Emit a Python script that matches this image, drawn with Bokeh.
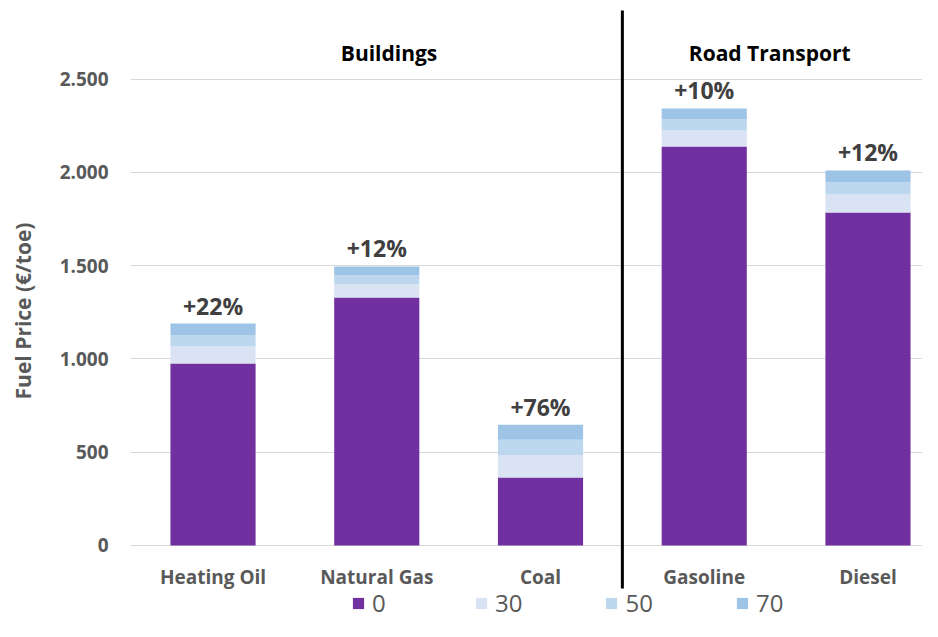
from bokeh.plotting import figure
from bokeh.models import (ColumnDataSource, Range1d, FixedTicker, Legend, LegendItem)
from bokeh.core.properties import value
from bokeh.embed import file_html
from bokeh.resources import INLINE

# ---- data ----
categories = ["Heating Oil", "Natural Gas", "Coal", "Gasoline", "Diesel"]
price_0 = [976, 1330, 365, 2139, 1786]
add_30 = [92, 71, 120, 87, 96]
add_50 = [61, 47, 82, 58, 64]
add_70 = [61, 48, 80, 59, 65]
pct_labels = ["+22%", "+12%", "+76%", "+10%", "+12%"]
series_names = ["0", "30", "50", "70"]
series_colors = ["#7030A0", "#DAE3F3", "#BDD7EE", "#9DC3E6"]
y_ticks = [0, 500, 1000, 1500, 2000, 2500]
y_tick_labels = ["0", "500", "1.000", "1.500", "2.000", "2.500"]
sections = ["Buildings", "Road Transport"]
section_x = [1.075, 3.40]
divider_x = 2.5

FONT = "Open Sans"
GREY = "#595959"

xs = list(range(len(categories)))
totals = [a + b + c + d for a, b, c, d in zip(price_0, add_30, add_50, add_70)]

src = ColumnDataSource(dict(x=xs, v0=price_0, v30=add_30, v50=add_50, v70=add_70,
                            total=totals, pct=pct_labels, cat=categories))

p = figure(width=922, height=621, output_backend="svg", toolbar_location=None,
           x_range=Range1d(-0.504, 4.333), y_range=Range1d(-407.5, 2922),
           x_axis_location=None, min_border_left=130, min_border_right=0,
           min_border_top=0, min_border_bottom=0)
p.outline_line_color = None
p.background_fill_color = "white"
p.border_fill_color = "white"

renderers = p.vbar_stack(["v0", "v30", "v50", "v70"], x="x", width=0.52, source=src,
                         color=series_colors, line_color=None)

# axes / grid
p.xgrid.grid_line_color = None
p.ygrid.grid_line_color = "#D9D9D9"
p.ygrid.grid_line_width = 1
yax = p.yaxis[0]
yax.ticker = FixedTicker(ticks=y_ticks)
yax.major_label_overrides = {t: l for t, l in zip(y_ticks, y_tick_labels)}
yax.axis_line_color = None
yax.major_tick_line_color = None
yax.minor_tick_line_color = None
yax.major_tick_out = 0
yax.major_label_standoff = 22
yax.major_label_text_font = FONT
yax.major_label_text_font_style = "bold"
yax.major_label_text_font_size = "19px"
yax.major_label_text_color = GREY
yax.axis_label = "Fuel Price (€/toe)"
yax.axis_label_text_font = FONT
yax.axis_label_text_font_style = "bold"
yax.axis_label_text_font_size = "21px"
yax.axis_label_text_color = GREY
yax.axis_label_standoff = 20

# percent labels
p.text(x="x", y="total", text="pct", source=src, text_align="center",
       text_baseline="middle", y_offset=-18, text_font=value(FONT),
       text_font_style="bold", text_font_size="23px", text_color="#404040")

# category labels
p.text(x="x", y=-171, text="cat", source=src, text_align="center",
       text_baseline="middle", text_font=value(FONT), text_font_style="bold",
       text_font_size="19px", text_color=GREY)

# section headings
p.text(x=section_x, y=[2643, 2643], text=sections, text_align="center",
       text_baseline="middle", text_font=value(FONT), text_font_style="bold",
       text_font_size="21px", text_color="black")

# divider
p.segment(x0=[divider_x], y0=[2868], x1=[divider_x], y1=[-230],
          line_color="black", line_width=3)

legend = Legend(items=[LegendItem(label=n, renderers=[r]) for n, r in zip(series_names, renderers)],
                orientation="horizontal", location=(221, 2), padding=0, margin=0,
                spacing=82, label_standoff=7, glyph_width=14, glyph_height=14,
                label_text_font=FONT, label_text_font_size="24px",
                label_text_color=GREY, border_line_color=None,
                background_fill_alpha=0)
p.add_layout(legend, "center")

open("out.html", "w").write(file_html(p, INLINE))
